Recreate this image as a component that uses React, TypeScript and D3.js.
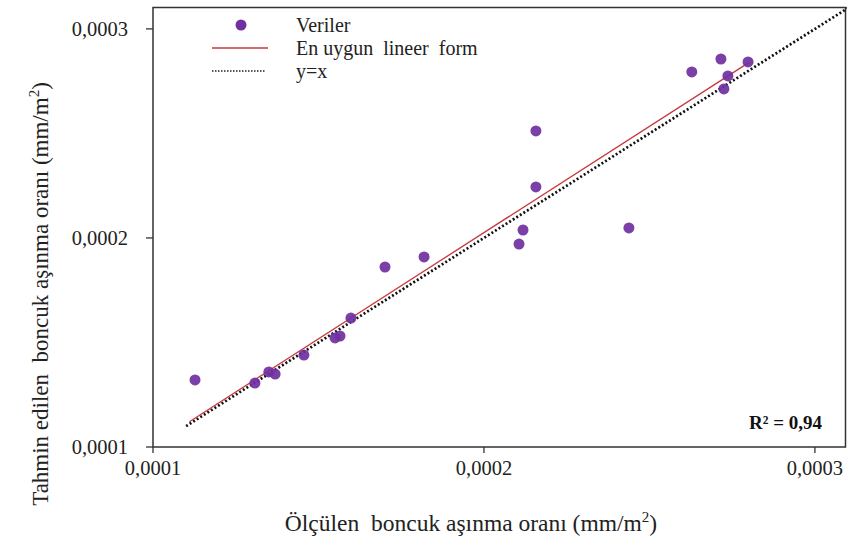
import React from "react";
import * as d3 from "d3";

// Measured (x) and predicted (y) bead wear rate, mm/m²
const measured = [
  0.0001127, 0.0001308, 0.000135, 0.0001369, 0.0001456, 0.000155, 0.0001565,
  0.0001598, 0.0001701, 0.0001819, 0.0002106, 0.0002118, 0.0002157, 0.0002157,
  0.0002438, 0.0002628, 0.0002716, 0.0002798, 0.0002737, 0.0002725,
];
const predicted = [
  0.0001321, 0.0001306, 0.0001359, 0.0001349, 0.000144, 0.0001522, 0.0001531,
  0.0001617, 0.0001861, 0.0001909, 0.0001971, 0.0002038, 0.0002244, 0.0002512,
  0.0002048, 0.0002794, 0.0002856, 0.0002842, 0.0002775, 0.0002713,
];

const tickValues = [0.0001, 0.0002, 0.0003];
const tickLabels = ["0,0001", "0,0002", "0,0003"];

// Best linear fit and the y = x reference
const fitSlope = 1.0165;
const fitIntercept = -0.00000075;
const fitRange = [0.000111, 0.00028];
const identityRange = [0.00011, 0.00031];
const rSquaredLabel = "R² = 0,94";

const legendLabels = ["Veriler", "En uygun  lineer  form", "y=x"];

const W = 847;
const H = 541;
const FONT = "Liberation Serif";
const PURPLE = "#7030A0";
const RED = "#C8383A";

const txt = { fontFamily: FONT, whiteSpace: "pre" } as React.CSSProperties;

export default function App() {
  const left = 153;
  const right = 845.5;
  const top = 7.5;
  const bottom = 447;

  const x = d3.scaleLinear().domain([0.0001, 0.00031]).range([left, 848]);
  const y = d3.scaleLinear().domain([0.0001, 0.00031]).range([bottom, 8]);

  const line = d3
    .line<number[]>()
    .x((d) => x(d[0]))
    .y((d) => y(d[1]));

  const fitPts = fitRange.map((v) => [v, fitIntercept + fitSlope * v]);
  const idPts = identityRange.map((v) => [v, v]);

  return (
    <div style={{ position: "absolute", left: 0, top: 0 }}>
      <svg width={W} height={H} style={{ display: "block", background: "#fff" }}>
        {/* frame */}
        <path
          d={`M${left},${bottom}V${top}H${right}V${bottom}Z`}
          fill="none"
          stroke="#333"
          strokeWidth={1.5}
        />

        {/* y axis ticks */}
        {tickValues.map((t, i) => (
          <g key={"y" + i}>
            <line x1={left - 7} x2={left} y1={y(t)} y2={y(t)} stroke="#333" strokeWidth={1.3} />
            <text x={left - 25} y={y(t) + 7} textAnchor="end" fontSize={20.5} fill="#222" style={txt}>
              {tickLabels[i]}
            </text>
          </g>
        ))}

        {/* x axis ticks */}
        {tickValues.map((t, i) => (
          <g key={"x" + i}>
            <line x1={x(t)} x2={x(t)} y1={bottom} y2={bottom + 6} stroke="#333" strokeWidth={1.3} />
            <text x={x(t)} y={bottom + 28} textAnchor="middle" fontSize={20.5} fill="#222" style={txt}>
              {tickLabels[i]}
            </text>
          </g>
        ))}

        {/* y = x */}
        <path
          d={line(idPts) || ""}
          fill="none"
          stroke="#111"
          strokeWidth={2.7}
          strokeDasharray="2,2.2"
        />

        {/* linear fit */}
        <path d={line(fitPts) || ""} fill="none" stroke={RED} strokeWidth={1.3} />

        {/* data points */}
        {measured.map((m, i) => (
          <circle key={i} cx={x(m)} cy={y(predicted[i])} r={5.5} fill={PURPLE} fillOpacity={0.92} />
        ))}

        {/* legend */}
        <circle cx={241} cy={25} r={5.5} fill={PURPLE} />
        <text x={296} y={32} fontSize={20} fill="#222" style={txt}>{legendLabels[0]}</text>
        <line x1={212} x2={268} y1={48} y2={48} stroke={RED} strokeWidth={1.3} />
        <text x={296} y={55} fontSize={20} fill="#222" style={txt}>
          {legendLabels[1]}
        </text>
        <line x1={212} x2={266} y1={71} y2={71} stroke="#222" strokeWidth={1.3} strokeDasharray="1.5,1.5" />
        <text x={296} y={78} fontSize={20} fill="#222" style={txt}>{legendLabels[2]}</text>

        {/* R² */}
        <text x={822} y={429} textAnchor="end" fontSize={19} fontWeight="bold" fill="#111" style={txt}>
          {rSquaredLabel}
        </text>

        {/* axis titles */}
        <text x={471} y={531} textAnchor="middle" fontSize={23.5} fill="#222" style={txt}>
          {"Ölçülen  boncuk aşınma oranı (mm/m"}
          <tspan dy={-9} fontSize={15}>2</tspan>
          <tspan dy={9}>)</tspan>
        </text>
        <text
          transform={`translate(48,${294}) rotate(-90)`}
          textAnchor="middle"
          fontSize={23}
          fill="#222"
          style={txt}
        >
          {"Tahmin edilen  boncuk aşınma oranı (mm/m"}
          <tspan dy={-9} fontSize={15}>2</tspan>
          <tspan dy={9}>)</tspan>
        </text>
      </svg>
    </div>
  );
}
